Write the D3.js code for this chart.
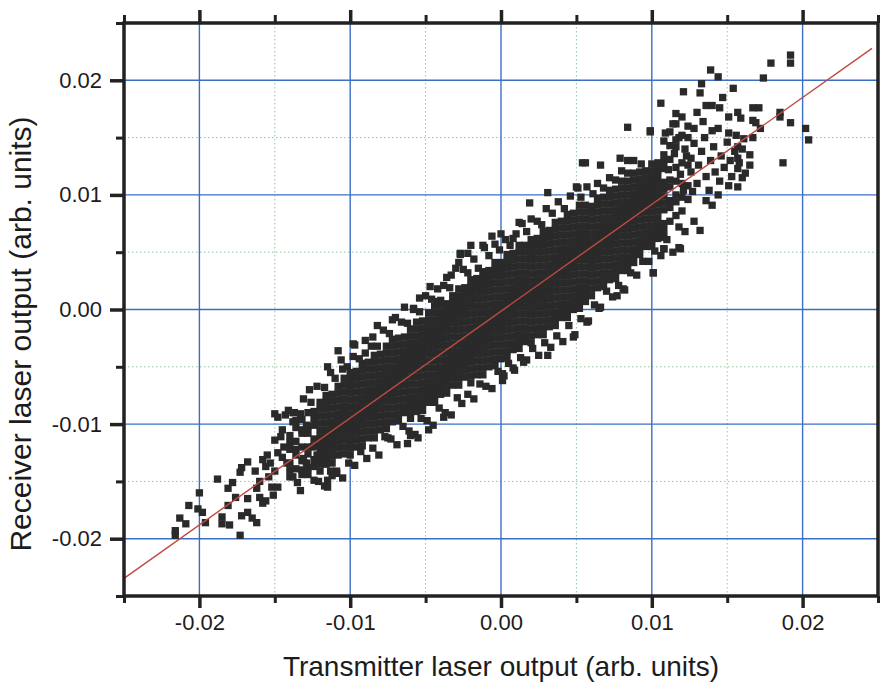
<!DOCTYPE html>
<html>
<head>
<meta charset="utf-8">
<script src="https://cdn.jsdelivr.net/npm/d3@7"></script>
<style>
  body { margin: 0; background: #fff; }
  text { font-family: "Liberation Sans", Arial, sans-serif; fill: #1c1c1c; }
</style>
</head>
<body>
<div id="chart"></div>
<script>
// all point values are in units of 1e-4 (arb. units)
const UNIT = 1e-4;

const xTickValues = [-0.02, -0.01, 0, 0.01, 0.02];
const xTickLabels = ["-0.02", "-0.01", "0.00", "0.01", "0.02"];
const yTickValues = [-0.02, -0.01, 0, 0.01, 0.02];
const yTickLabels = ["-0.02", "-0.01", "0.00", "0.01", "0.02"];
const minorTickValues = [-0.025, -0.015, -0.005, 0.005, 0.015, 0.025];

// linear fit drawn over the data
const fitX = [-0.025, 0.0246];
const fitY = [-0.02346, 0.02279];

// dense middle of the cloud: [x, y1, y2, ...]
const coreColumns = [
  [-140, -146, -134, -122, -110],
  [-136, -139, -127, -115, -103, -97],
  [-132, -144, -132, -120, -108, -96],
  [-128, -138, -126, -120, -108, -102, -90],
  [-124, -137, -131, -119, -113, -101, -95, -89],
  [-120, -141, -135, -129, -123, -117, -111, -105, -99, -93, -87, -81],
  [-116, -135, -129, -123, -117, -111, -105, -99, -93, -87, -81, -75],
  [-112, -134, -128, -122, -116, -110, -104, -98, -92, -86, -80, -74],
  [-108, -127, -121, -115, -109, -103, -97, -91, -85, -79, -73, -67],
  [-104, -126, -120, -114, -108, -102, -96, -90, -84, -78, -72, -66, -60],
  [-100, -127, -121, -115, -109, -103, -97, -91, -85, -79, -73, -67, -61, -55],
  [-96, -120, -114, -108, -102, -96, -90, -84, -78, -72, -66, -60, -54],
  [-92, -119, -113, -107, -101, -95, -89, -83, -77, -71, -65, -59, -53, -47],
  [-88, -112, -106, -100, -94, -88, -82, -76, -70, -64, -58, -52, -46],
  [-84, -112, -106, -100, -94, -88, -82, -76, -70, -64, -58, -52, -46, -40],
  [-80, -105, -99, -93, -87, -81, -75, -69, -63, -57, -51, -45, -39],
  [-76, -104, -98, -92, -86, -80, -74, -68, -62, -56, -50, -44, -38, -32],
  [-72, -98, -92, -86, -80, -74, -68, -62, -56, -50, -44, -38, -32, -26],
  [-68, -97, -91, -85, -79, -73, -67, -61, -55, -49, -43, -37, -31, -25],
  [-64, -90, -84, -78, -72, -66, -60, -54, -48, -42, -36, -30, -24],
  [-60, -95, -89, -83, -77, -71, -65, -59, -53, -47, -41, -35, -29, -23, -17],
  [-56, -89, -83, -77, -71, -65, -59, -53, -47, -41, -35, -29, -23, -17, -11],
  [-52, -88, -82, -76, -70, -64, -58, -52, -46, -40, -34, -28, -22, -16, -10],
  [-48, -81, -75, -69, -63, -57, -51, -45, -39, -33, -27, -21, -15, -9, -3],
  [-44, -81, -75, -69, -63, -57, -51, -45, -39, -33, -27, -21, -15, -9, -3, 3],
  [-40, -74, -68, -62, -56, -50, -44, -38, -32, -26, -20, -14, -8, -2, 4],
  [-36, -73, -67, -61, -55, -49, -43, -37, -31, -25, -19, -13, -7, -1, 5],
  [-32, -66, -60, -54, -48, -42, -36, -30, -24, -18, -12, -6, 0, 6, 12],
  [-28, -66, -60, -54, -48, -42, -36, -30, -24, -18, -12, -6, 0, 6, 12, 18],
  [-24, -59, -53, -47, -41, -35, -29, -23, -17, -11, -5, 1, 7, 13, 19],
  [-20, -64, -58, -52, -46, -40, -34, -28, -22, -16, -10, -4, 2, 8, 14, 20, 26],
  [-16, -57, -51, -45, -39, -33, -27, -21, -15, -9, -3, 3, 9, 15, 21, 27],
  [-12, -57, -51, -45, -39, -33, -27, -21, -15, -9, -3, 3, 9, 15, 21, 27, 33],
  [-8, -50, -44, -38, -32, -26, -20, -14, -8, -2, 4, 10, 16, 22, 28, 34],
  [-4, -49, -43, -37, -31, -25, -19, -13, -7, -1, 5, 11, 17, 23, 29, 35, 41],
  [0, -43, -37, -31, -25, -19, -13, -7, -1, 5, 11, 17, 23, 29, 35, 41],
  [4, -42, -36, -30, -24, -18, -12, -6, 0, 6, 12, 18, 24, 30, 36, 42, 48],
  [8, -35, -29, -23, -17, -11, -5, 1, 7, 13, 19, 25, 31, 37, 43, 49],
  [12, -34, -28, -22, -16, -10, -4, 2, 8, 14, 20, 26, 32, 38, 44, 50, 56],
  [16, -28, -22, -16, -10, -4, 2, 8, 14, 20, 26, 32, 38, 44, 50, 56],
  [20, -29, -23, -17, -11, -5, 1, 7, 13, 19, 25, 31, 37, 43, 49, 55, 61],
  [24, -22, -16, -10, -4, 2, 8, 14, 20, 26, 32, 38, 44, 50, 56, 62],
  [28, -22, -16, -10, -4, 2, 8, 14, 20, 26, 32, 38, 44, 50, 56, 62, 68],
  [32, -15, -9, -3, 3, 9, 15, 21, 27, 33, 39, 45, 51, 57, 63, 69],
  [36, -14, -8, -2, 4, 10, 16, 22, 28, 34, 40, 46, 52, 58, 64, 70, 76],
  [40, -7, -1, 5, 11, 17, 23, 29, 35, 41, 47, 53, 59, 65, 71, 77],
  [44, -7, -1, 5, 11, 17, 23, 29, 35, 41, 47, 53, 59, 65, 71, 77, 83],
  [48, 0, 6, 12, 18, 24, 30, 36, 42, 48, 54, 60, 66, 72, 78, 84],
  [52, 1, 7, 13, 19, 25, 31, 37, 43, 49, 55, 61, 67, 73, 79, 85, 91],
  [56, 7, 13, 19, 25, 31, 37, 43, 49, 55, 61, 67, 73, 79, 85, 91],
  [60, 12, 18, 24, 30, 36, 42, 48, 54, 60, 66, 72, 78, 84, 90],
  [64, 19, 25, 31, 37, 43, 49, 55, 61, 67, 73, 79, 85, 91, 97],
  [68, 20, 26, 32, 38, 44, 50, 56, 62, 68, 74, 80, 86, 92, 98],
  [72, 26, 32, 38, 44, 50, 56, 62, 68, 74, 80, 86, 92, 98, 104],
  [76, 27, 33, 39, 45, 51, 57, 63, 69, 75, 81, 87, 93, 99, 105],
  [80, 34, 40, 46, 52, 58, 64, 70, 76, 82, 88, 94, 100, 106, 112],
  [84, 34, 40, 46, 52, 58, 64, 70, 76, 82, 88, 94, 100, 106, 112],
  [88, 41, 47, 53, 59, 65, 71, 77, 83, 89, 95, 101, 107, 113, 119],
  [92, 48, 54, 60, 66, 72, 78, 84, 90, 96, 102, 108, 114, 120],
  [96, 55, 61, 67, 73, 79, 85, 91, 97, 103, 109, 115, 121],
  [100, 55, 61, 67, 73, 79, 85, 91, 97, 103, 109, 115, 121, 127],
  [104, 62, 68, 74, 80, 86, 92, 98, 104, 110, 116, 122, 128],
  [108, 63, 69, 75, 87, 93, 99, 105, 111, 123, 129, 135],
  [112, 77, 89, 95, 107, 113, 131, 143],
  [116, 82, 94, 100, 112, 124, 142],
  [120, 86, 98, 110, 128, 152],
  [124, 96, 108, 126, 150]
];

// ragged upper and lower edges of the cloud: [x, y]
const edgePoints = [
  [-138, -90], [-131, -78], [-126, -81], [-122, -67], [-117, -68], [-113, -55],
  [-110, -60], [-106, -44], [-102, -50], [-98, -41], [-94, -43], [-90, -27],
  [-86, -32], [-82, -32], [-78, -18], [-74, -21], [-70, -7], [-66, -11],
  [-62, -12], [-58, 0], [-54, -2], [-50, 12], [-46, 9], [-42, 7], [-38, 21],
  [-34, 19], [-30, 36], [-27, 48], [-25, 35], [-22, 32], [-18, 44], [-15, 36],
  [-11, 54], [-8, 47], [-4, 57], [-1, 52], [3, 61], [6, 56], [10, 66], [14, 75],
  [17, 68], [20, 79], [24, 77], [27, 74], [30, 88], [34, 84], [38, 94], [42, 88],
  [46, 99], [50, 107], [53, 98], [57, 107], [61, 101], [64, 110], [68, 106],
  [72, 115], [76, 113], [80, 121], [84, 119], [88, 130], [93, 127],
  [-12, 56], [-27, 49], [-28, 41], [-22, 49], [-42, 18], [-40, 8], [-58, 1],
  [19, 93], [8, 62], [-72, -9], [-85, -24], [-97, -31], [-108, -36], [-98, -30],
  [-115, -50], [-127, -70], [99, 155], [109, 154], [116, 162], [54, 128],
  [56, 128], [66, 126], [31, 102], [51, 106], [79, 132], [84, 130],
  [-121, -150], [-117, -154], [-113, -141], [-109, -143], [-105, -147],
  [-101, -134], [-97, -136], [-93, -124], [-89, -130], [-85, -121], [-81, -127],
  [-77, -111], [-73, -113], [-69, -118], [-65, -102], [-61, -106], [-57, -109],
  [-53, -95], [-49, -97], [-45, -101], [-41, -86], [-37, -90], [-33, -92],
  [-29, -77], [-26, -82], [-22, -74], [-18, -78], [-14, -65], [-10, -67],
  [-6, -69], [-2, -54], [2, -58], [5, -47], [9, -53], [13, -42], [17, -44],
  [21, -34], [25, -40], [29, -29], [33, -33], [37, -23], [41, -28], [45, -14],
  [49, -22], [53, -8], [58, -10], [62, 4], [66, 2], [70, 16], [74, 11], [78, 21],
  [82, 17], [86, 32], [90, 30], [94, 42], [98, 42], [102, 51], [106, 47],
  [110, 61], [114, 50], [118, 72], [122, 68], [128, 77], [132, 69], [136, 95],
  [140, 91], [-38, -94], [-48, -105], [-60, -110], [-55, -112], [-75, -112],
  [-62, -117], [1, -62], [1, -56], [8, -51], [15, -46], [31, -40], [48, -24],
  [57, -11], [65, 1], [77, 12], [81, 18], [101, 32], [108, 53], [118, 54],
  [-82, -14], [-64, 2], [-47, 20], [-33, 30], [-6, 64], [12, 76], [-90, -38],
  [-105, -52], [-20, 56], [0, 66], [-36, 28], [-54, 10]
];

// sparse lower-left tail: [x, y]
const tailPoints = [
  [-216, -193], [-216, -197], [-213, -182], [-209, -187], [-207, -171],
  [-201, -174], [-200, -160], [-198, -177], [-196, -186], [-188, -148],
  [-185, -181], [-185, -187], [-181, -156], [-180, -188], [-178, -151],
  [-181, -171], [-176, -164], [-173, -197], [-172, -180], [-173, -142],
  [-172, -138], [-168, -133], [-168, -177], [-168, -165], [-165, -182],
  [-162, -186], [-163, -141], [-162, -156], [-160, -164], [-158, -169],
  [-156, -167], [-158, -131], [-155, -127], [-153, -134], [-152, -155],
  [-151, -162], [-150, -141], [-148, -125], [-148, -155], [-150, -114],
  [-146, -111], [-145, -105], [-150, -91], [-148, -94], [-143, -92],
  [-141, -88], [-137, -90], [-138, -98], [-133, -91], [-132, -105],
  [-129, -101], [-145, -129], [-142, -134], [-140, -140], [-138, -146],
  [-135, -151], [-133, -158], [-131, -130], [-129, -134], [-125, -120],
  [-124, -149], [-122, -127], [-120, -134], [-115, -155], [-115, -149],
  [-112, -145], [-109, -141], [-156, -137], [-160, -150], [-154, -146],
  [-144, -120], [-140, -116], [-136, -122], [-132, -140], [-128, -144]
];

// sparse upper-right end of the cloud: [x, y]
const upperPoints = [
  [106, 180], [99, 156], [116, 171], [114, 162], [121, 190], [133, 197],
  [132, 189], [139, 209], [144, 203], [154, 193], [147, 185], [140, 178],
  [145, 176], [151, 168], [157, 172], [159, 167], [167, 176], [171, 176],
  [167, 165], [169, 163], [172, 158], [167, 150], [161, 149], [157, 142],
  [165, 135], [157, 132], [165, 126], [157, 123], [160, 115], [157, 107],
  [151, 108], [144, 100], [179, 215], [174, 202], [192, 222], [192, 215],
  [185, 172], [185, 168], [192, 163], [187, 128], [202, 158], [204, 148],
  [151, 154], [84, 159], [108, 53], [119, 53], [101, 32],
  [126, 120], [126, 132], [128, 145], [130, 110], [131, 126], [133, 138],
  [135, 150], [136, 116], [138, 104], [139, 130], [141, 142], [142, 120],
  [144, 158], [145, 112], [146, 134], [148, 124], [150, 146], [152, 130],
  [153, 116], [155, 138], [156, 152], [158, 128], [160, 140], [162, 119],
  [124, 160], [120, 168], [118, 150], [128, 158], [134, 164], [140, 156],
  [136, 178], [130, 172], [122, 140], [116, 148], [112, 155], [108, 147],
  [119, 118], [123, 134], [127, 103], [115, 136], [111, 122], [121, 104]
];

const width = 881;
const height = 684;

const svg = d3.select("#chart")
  .append("svg")
  .attr("width", width)
  .attr("height", height);

const x = d3.scaleLinear().domain([-0.025, 0.025]).range([124, 878]);
const y = d3.scaleLinear().domain([-0.025, 0.025]).range([596, 23]);

// grid: dotted minor lines first, then solid blue majors
const gridMinor = [-0.015, -0.005, 0.005, 0.015];
svg.append("g").selectAll("line")
  .data(gridMinor).enter().append("line")
  .attr("x1", (d) => x(d)).attr("x2", (d) => x(d))
  .attr("y1", y(0.025)).attr("y2", y(-0.025))
  .attr("stroke", "#8fc79b").attr("stroke-width", 1).attr("stroke-dasharray", "1.5,2.5");
svg.append("g").selectAll("line")
  .data(gridMinor).enter().append("line")
  .attr("y1", (d) => y(d)).attr("y2", (d) => y(d))
  .attr("x1", x(-0.025)).attr("x2", x(0.025))
  .attr("stroke", "#8fc79b").attr("stroke-width", 1).attr("stroke-dasharray", "1.5,2.5");

svg.append("g").selectAll("line")
  .data(xTickValues).enter().append("line")
  .attr("x1", (d) => x(d)).attr("x2", (d) => x(d))
  .attr("y1", y(0.025)).attr("y2", y(-0.025))
  .attr("stroke", "#3b6fc4").attr("stroke-width", 1.4);
svg.append("g").selectAll("line")
  .data(yTickValues).enter().append("line")
  .attr("y1", (d) => y(d)).attr("y2", (d) => y(d))
  .attr("x1", x(-0.025)).attr("x2", x(0.025))
  .attr("stroke", "#3b6fc4").attr("stroke-width", 1.4);

// collect all points
const points = [];
coreColumns.forEach((col) => {
  col.slice(1).forEach((v) => points.push([col[0], v]));
});
edgePoints.concat(tailPoints, upperPoints).forEach((p) => points.push(p));

const size = 7.3;
svg.append("g")
  .selectAll("rect")
  .data(points)
  .enter()
  .append("rect")
  .attr("x", (d) => x(d[0] * UNIT) - size / 2)
  .attr("y", (d) => y(d[1] * UNIT) - size / 2)
  .attr("width", size)
  .attr("height", size)
  .attr("fill", "#2a2a2a");

// fit line
svg.append("line")
  .attr("x1", x(fitX[0])).attr("y1", y(fitY[0]))
  .attr("x2", x(fitX[1])).attr("y2", y(fitY[1]))
  .attr("stroke", "#c04a3e")
  .attr("stroke-width", 1.4);

// axes
function styleAxis(g, w) {
  g.select(".domain").remove();
  g.selectAll(".tick line").attr("stroke", "#222").attr("stroke-width", w);
  g.selectAll(".tick text").attr("font-size", 22).attr("fill", "#1c1c1c");
}

svg.append("g")
  .attr("transform", `translate(0,${y(-0.025)})`)
  .call(d3.axisBottom(x).tickValues(xTickValues).tickFormat((d, i) => xTickLabels[i]).tickSize(12).tickPadding(6))
  .call((g) => styleAxis(g, 3.5));
svg.append("g")
  .attr("transform", `translate(0,${y(-0.025)})`)
  .call(d3.axisBottom(x).tickValues(minorTickValues).tickFormat("").tickSize(7))
  .call((g) => styleAxis(g, 3));

svg.append("g")
  .attr("transform", `translate(0,${y(0.025)})`)
  .call(d3.axisTop(x).tickValues(xTickValues).tickFormat("").tickSize(13))
  .call((g) => styleAxis(g, 3.5));
svg.append("g")
  .attr("transform", `translate(0,${y(0.025)})`)
  .call(d3.axisTop(x).tickValues(minorTickValues).tickFormat("").tickSize(8))
  .call((g) => styleAxis(g, 3));

svg.append("g")
  .attr("transform", `translate(${x(-0.025)},0)`)
  .call(d3.axisLeft(y).tickValues(yTickValues).tickFormat((d, i) => yTickLabels[i]).tickSize(14).tickPadding(8))
  .call((g) => styleAxis(g, 3.5));
svg.append("g")
  .attr("transform", `translate(${x(-0.025)},0)`)
  .call(d3.axisLeft(y).tickValues(minorTickValues).tickFormat("").tickSize(8))
  .call((g) => styleAxis(g, 3));

// frame
svg.append("rect")
  .attr("x", x(-0.025)).attr("y", y(0.025))
  .attr("width", x(0.025) - x(-0.025))
  .attr("height", y(-0.025) - y(0.025))
  .attr("fill", "none")
  .attr("stroke", "#222")
  .attr("stroke-width", 3.5);

// axis titles
svg.append("text")
  .attr("x", 501).attr("y", 676)
  .attr("text-anchor", "middle")
  .attr("font-size", 28)
  .text("Transmitter laser output (arb. units)");

svg.append("text")
  .attr("transform", "translate(31,334) rotate(-90)")
  .attr("text-anchor", "middle")
  .attr("font-size", 30)
  .text("Receiver laser output (arb. units)");
</script>
</body>
</html>
